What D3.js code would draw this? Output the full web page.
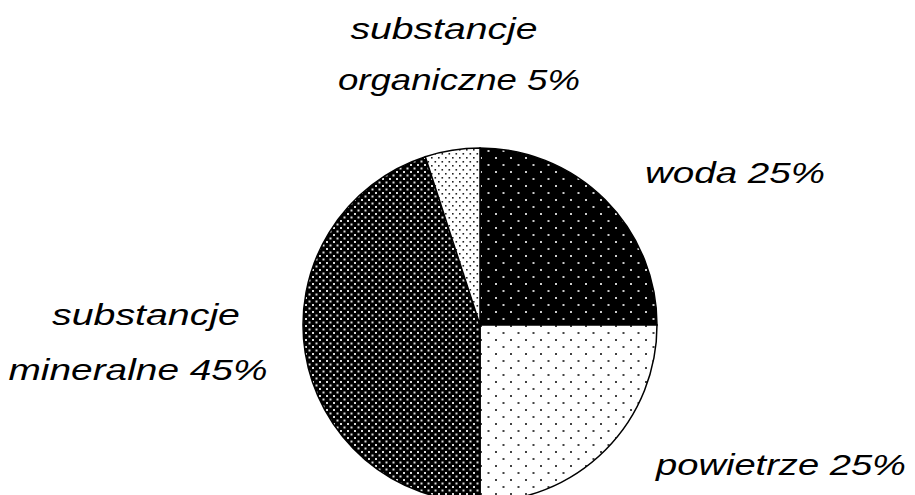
<!DOCTYPE html>
<html>
<head>
<meta charset="utf-8">
<script src="https://cdn.jsdelivr.net/npm/d3@7"></script>
<style>
  body { margin: 0; background: #fff; }
  text { font-family: "Liberation Sans", Arial, sans-serif; font-style: italic; font-size: 30px; fill: #000; }
</style>
</head>
<body>
<svg width="915" height="495"></svg>
<script>
// udziały składników gleby (%)
var names = ["woda", "powietrze", "substancje mineralne", "substancje organiczne"];
var values = [25, 25, 45, 5];
var fills = ["url(#p-woda)", "url(#p-powietrze)", "url(#p-mineralne)", "url(#p-organiczne)"];

// etykiety, każda linia osobno
var labelLines = [
  ["woda 25%"],
  ["powietrze 25%"],
  ["substancje", "mineralne 45%"],
  ["substancje", "organiczne 5%"]
];

var svg = d3.select("svg"),
  width = +svg.attr("width"),
  height = +svg.attr("height");

var cx = 480, cy = 325, radius = 177;

var defs = svg.append("defs");

// wzory kropek jak w starym wykresie czarno-białym
function dotPattern(id, w, h, bg, fg, r, dots) {
  var p = defs.append("pattern")
    .attr("id", id)
    .attr("patternUnits", "userSpaceOnUse")
    .attr("width", w)
    .attr("height", h);
  p.append("rect").attr("width", w).attr("height", h).attr("fill", bg);
  dots.forEach(function(d) {
    p.append("rect")
      .attr("x", d[0]).attr("y", d[1])
      .attr("width", r).attr("height", r)
      .attr("fill", fg);
  });
}

dotPattern("p-woda", 15, 14, "#000", "#ccc", 2, [[0, 0], [7.5, 7]]);
dotPattern("p-powietrze", 15, 14, "#fff", "#444", 2, [[0, 0], [7.5, 7]]);
dotPattern("p-mineralne", 7, 7, "#000", "#ddd", 2, [[0, 0], [3.5, 3.5]]);
dotPattern("p-organiczne", 7, 8, "#fff", "#222", 1.6, [[0, 0], [3.5, 4]]);

var pie = d3.pie().sort(null).value(function(d) { return d; });
var arc = d3.arc().innerRadius(0).outerRadius(radius);

var g = svg.append("g").attr("transform", "translate(" + cx + "," + cy + ")");

g.selectAll("path")
  .data(pie(values))
  .enter()
  .append("path")
  .attr("d", arc)
  .attr("fill", function(d, i) { return fills[i]; })
  .attr("stroke", "#000")
  .attr("stroke-width", 1.5);

// położenie etykiet: [środek x, linia bazowa y, szerokość] dla każdej linii
var labelPos = [
  [[735, 183, 180]],
  [[781, 475, 250]],
  [[146, 325, 188], [138, 380, 259]],
  [[444, 39, 187], [459, 90, 242]]
];

labelLines.forEach(function(lines, i) {
  lines.forEach(function(t, j) {
    var p = labelPos[i][j];
    svg.append("text")
      .attr("x", p[0] - p[2] / 2)
      .attr("y", p[1])
      .attr("textLength", p[2])
      .attr("lengthAdjust", "spacingAndGlyphs")
      .text(t);
  });
});
</script>
</body>
</html>
